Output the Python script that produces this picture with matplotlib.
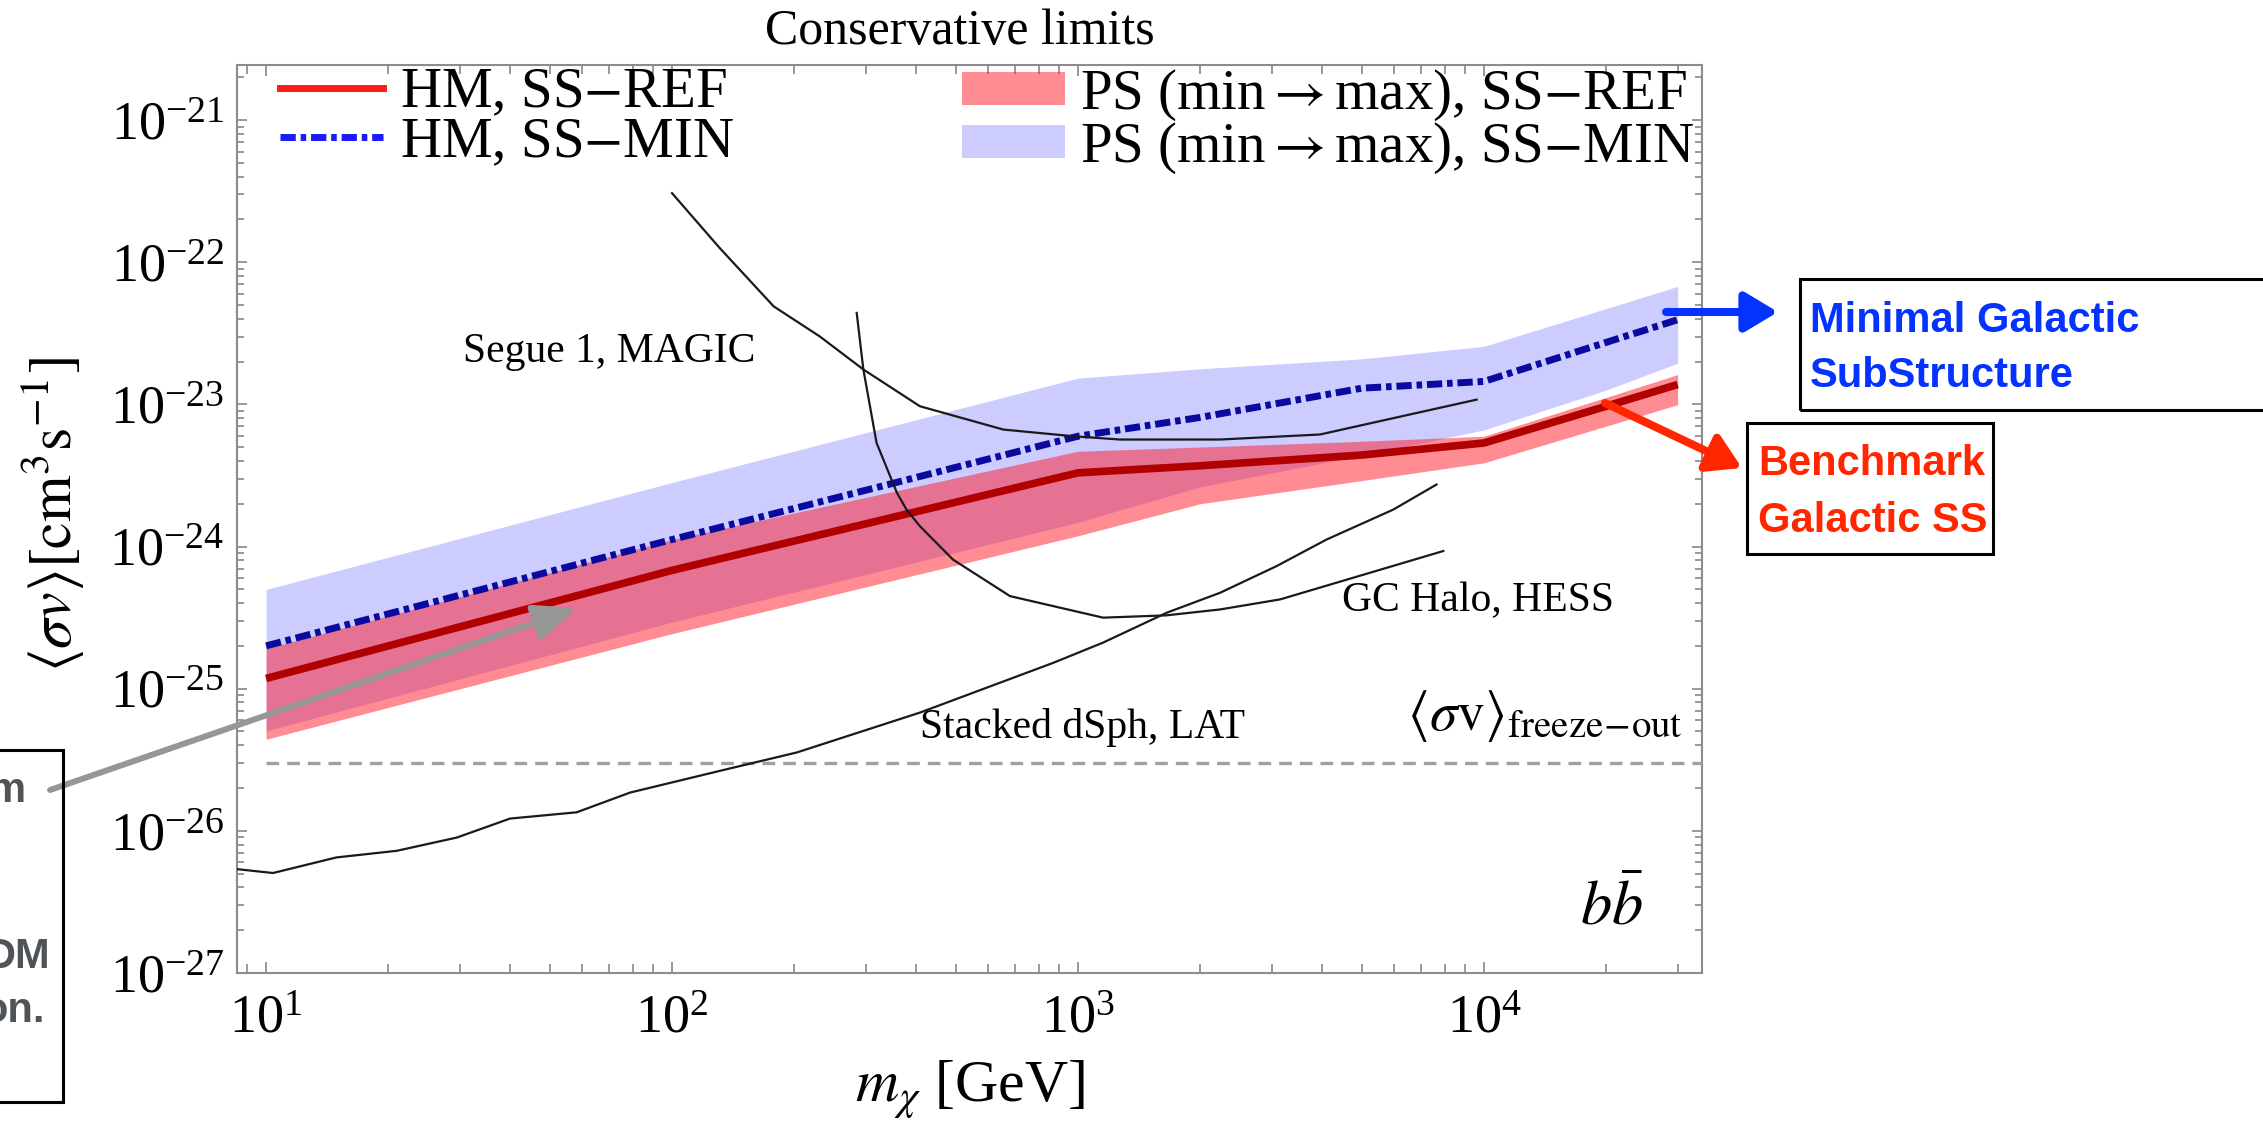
import numpy as np
import matplotlib
matplotlib.use('Agg')
import matplotlib.pyplot as plt
from matplotlib.lines import Line2D
from matplotlib.patches import Patch, Rectangle
from matplotlib.ticker import FixedLocator, NullFormatter

matplotlib.rcParams['font.family'] = 'serif'
matplotlib.rcParams['font.serif'] = ['Liberation Serif', 'DejaVu Serif']
matplotlib.rcParams['mathtext.fontset'] = 'stix'

W, H = 2263, 1127

# ---- data ----
mass_hm = [10, 100, 1e3, 2e3, 5e3, 1e4, 2e4, 3e4]
hm_ref = [1.18e-25, 6.8e-25, 3.3e-24, 3.7e-24, 4.4e-24, 5.35e-24, 9.7e-24, 1.38e-23]
hm_min = [2.0e-25, 1.12e-24, 5.97e-24, 8.1e-24, 1.30e-23, 1.45e-23, 2.73e-23, 3.94e-23]
ps_ref_lo = [4.41e-26, 2.44e-25, 1.19e-24, 2.0e-24, 2.91e-24, 3.88e-24, 7.03e-24, 9.95e-24]
ps_ref_hi = [1.91e-25, 1.12e-24, 4.68e-24, 5.01e-24, 5.50e-24, 5.97e-24, 1.12e-23, 1.62e-23]
ps_min_lo = [5.05e-26, 2.94e-25, 1.48e-24, 2.63e-24, 4.37e-24, 6.61e-24, 1.26e-23, 1.95e-23]
ps_min_hi = [4.99e-25, 2.82e-24, 1.53e-23, 1.78e-23, 2.09e-23, 2.56e-23, 4.72e-23, 6.76e-23]

segue_m = [100, 131, 178, 231, 296, 408, 655, 973, 1268, 2240, 3945, 9590]
segue_sv = [3.06e-22, 1.26e-22, 4.89e-23, 3.01e-23, 1.76e-23, 9.7e-24, 6.65e-24,
            5.97e-24, 5.66e-24, 5.66e-24, 6.14e-24, 1.08e-23]

hess_m = [285, 296, 319, 358, 378, 408, 492, 680, 1153, 1651, 2240, 3150, 7940]
hess_sv = [4.4e-23, 1.76e-23, 5.36e-24, 2.39e-24, 1.82e-24, 1.39e-24, 8.1e-25,
           4.48e-25, 3.16e-25, 3.28e-25, 3.61e-25, 4.25e-25, 9.3e-25]

lat_m = [8.47, 10.4, 14.9, 21.0, 29.5, 39.9, 58.2, 78.9, 131, 203, 408, 869, 1153,
         1657, 2239, 3083, 4095, 5980, 7640]
lat_sv = [5.38e-27, 5.05e-27, 6.50e-27, 7.24e-27, 8.97e-27, 1.22e-26, 1.35e-26, 1.86e-26,
          2.64e-26, 3.56e-26, 6.79e-26, 1.52e-25, 2.11e-25, 3.43e-25, 4.73e-25, 7.28e-25,
          1.12e-24, 1.82e-24, 2.73e-24]

freeze_m = [10, 3.44e4]
freeze_sv = [3e-26, 3e-26]

x_major = [10, 100, 1e3, 1e4]
y_major = [1e-27, 1e-26, 1e-25, 1e-24, 1e-23, 1e-22, 1e-21]
xlim = (8.48, 3.444e4)
ylim = (1e-27, 2.44e-21)

red_band = (1, 0.1, 0.15)
blue_band = '#ccccff'


def px(x, y):
    # pixel position measured from the top-left corner -> figure fraction
    return x / W, 1 - y / H


def minor_ticks(lo, hi):
    out = []
    for e in range(int(np.floor(np.log10(lo))), int(np.ceil(np.log10(hi))) + 1):
        for k in range(2, 10):
            v = k * 10.0 ** e
            if lo <= v <= hi:
                out.append(v)
    return out


fig = plt.figure(figsize=(W / 100, H / 100), dpi=100)
ax = fig.add_axes([237 / W, 1 - 973 / H, (1702 - 237) / W, (973 - 65) / H])
ax.set_xscale('log')
ax.set_yscale('log')

ax.fill_between(mass_hm, ps_min_lo, ps_min_hi, color=blue_band, lw=0, zorder=1)
ax.fill_between(mass_hm, ps_ref_lo, ps_ref_hi, color=red_band, alpha=0.5, lw=0, zorder=2)

ax.plot(freeze_m, freeze_sv, color='#a0a0a0', lw=2.4, dashes=(3.8, 2.4), zorder=3)
ax.plot(lat_m, lat_sv, color='#1a1a1a', lw=1.6, zorder=5)
ax.plot(hess_m, hess_sv, color='#1a1a1a', lw=1.6, zorder=5)
ax.plot(segue_m, segue_sv, color='#1a1a1a', lw=1.6, zorder=5)

ax.plot(mass_hm, hm_ref, color='#b00000', lw=5.5, zorder=4, solid_capstyle='butt')
ax.plot(mass_hm, hm_min, color='#0a0a9e', lw=5, dashes=(2.2, 0.7, 0.8, 0.7), zorder=4)

ax.set_xlim(*xlim)
ax.set_ylim(*ylim)

ax.xaxis.set_major_locator(FixedLocator(x_major))
ax.yaxis.set_major_locator(FixedLocator(y_major))
ax.xaxis.set_minor_locator(FixedLocator(minor_ticks(*xlim)))
ax.yaxis.set_minor_locator(FixedLocator(minor_ticks(*ylim)))
ax.xaxis.set_minor_formatter(NullFormatter())
ax.yaxis.set_minor_formatter(NullFormatter())
ax.tick_params(which='both', direction='in', top=True, right=True, color='#888888',
               width=1.2, labelsize=39)
ax.tick_params(axis='x', which='major', length=8, pad=15)
ax.tick_params(axis='x', which='minor', length=6.5)
ax.tick_params(axis='y', which='major', length=7.5, pad=9)
ax.tick_params(axis='y', which='minor', length=5)
for s in ax.spines.values():
    s.set_color('#8c8c8c')
    s.set_linewidth(1.5)

# legends
h1 = [Line2D([], [], color='#ff1a1a', lw=5),
      Line2D([], [], color='#1a1aff', lw=5, dashes=(2.2, 0.7, 0.8, 0.7))]
leg1 = ax.legend(h1, ['HM, SS$-$REF', 'HM, SS$-$MIN'], loc='upper left',
                 bbox_to_anchor=(0.0294, 0.997), frameon=False, fontsize=41,
                 borderpad=0, handlelength=1.8, handletextpad=0.3, labelspacing=-0.05,
                 borderaxespad=0)
ax.add_artist(leg1)
h2 = [Patch(facecolor=red_band, alpha=0.5, lw=0), Patch(facecolor=blue_band, lw=0)]
ax.legend(h2, [r'PS (min$\rightarrow$max), SS$-$REF', r'PS (min$\rightarrow$max), SS$-$MIN'],
          loc='upper left', bbox_to_anchor=(0.4949, 0.997), frameon=False, fontsize=41,
          borderpad=0, handlelength=1.8, handleheight=0.52, handletextpad=0.28,
          labelspacing=-0.05, borderaxespad=0)

# labels inside the frame
ax.text(30.5, 2.35e-23, 'Segue 1, MAGIC', fontsize=30, ha='left', va='center')
ax.text(408, 5.36e-26, 'Stacked dSph, LAT', fontsize=30, ha='left', va='center')
ax.text(4467, 4.18e-25, 'GC Halo, HESS', fontsize=30, ha='left', va='center')
ax.text(30900, 4.06e-26, r'$\langle\sigma\mathrm{v}\rangle_{\mathrm{freeze\!-\!out}}$',
        fontsize=40, ha='right', va='bottom')
ax.text(24660, 2.21e-27, r'$b\bar{b}$', fontsize=45, ha='right', va='baseline')

fig.text(*px(960, 32), 'Conservative limits', fontsize=36, ha='center', va='center')
fig.text(*px(970, 1090), r'$m_\chi$ [GeV]', fontsize=43, ha='center', va='center')
fig.text(*px(52, 515), r'$\langle\sigma v\rangle[\mathrm{cm}^3\mathrm{s}^{-1}]$', fontsize=43,
         rotation=90, ha='center', va='center')

# annotations outside the frame
blue_c, red_c, grey_c = '#0433ff', '#ff2600', '#969696'
sans = dict(family='Liberation Sans', weight='bold', fontsize=30, va='baseline')


def arrow(tail, tip, color, lw, hl, hw):
    ax.annotate('', xy=(tip[0], H - tip[1]), xytext=(tail[0], H - tail[1]),
                xycoords='figure pixels', textcoords='figure pixels', annotation_clip=False,
                arrowprops=dict(arrowstyle='-|>,head_length=%g,head_width=%g' % (hl, hw),
                                color=color, lw=lw, shrinkA=0, shrinkB=0, mutation_scale=1),
                zorder=10)


arrow((1666, 312), (1778, 312), blue_c, 5.8, 20, 12)
arrow((1605, 403), (1742, 468), red_c, 5.8, 20, 12)
arrow((50, 790), (577, 608), grey_c, 4.3, 26, 11)

for x0, y0, x1, y1 in [(1800, 279, 2300, 410), (1747, 423, 1993, 554), (-20, 750, 63, 1102)]:
    fig.add_artist(Rectangle(px(x0, y1), (x1 - x0) / W, (y1 - y0) / H, transform=fig.transFigure,
                             fill=False, ec='black', lw=2.2))

fig.text(*px(1810, 332), 'Minimal Galactic', color=blue_c, **sans)
fig.text(*px(1810, 387), 'SubStructure', color=blue_c, **sans)
fig.text(*px(1758, 475), 'Benchmark', color=red_c, **sans)
fig.text(*px(1758, 532), 'Galactic SS', color=red_c, **sans)
fig.text(*px(25, 802), 'm', color='#505459', ha='right', **sans)
fig.text(*px(50, 968), 'DM', color='#505459', ha='right', **sans)
fig.text(*px(45, 1022), 'on.', color='#505459', ha='right', **sans)

fig.savefig('out.png', dpi=100)
